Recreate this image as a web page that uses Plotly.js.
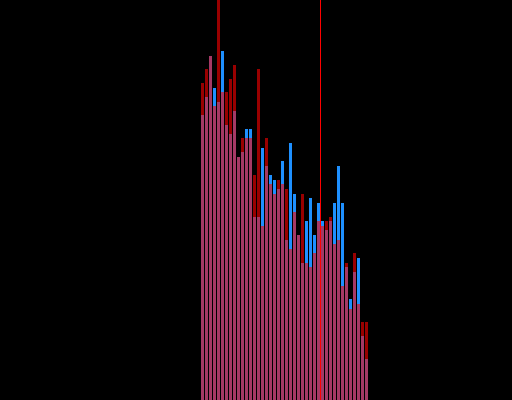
<!DOCTYPE html>
<html>
<head>
<meta charset="utf-8">
<script src="https://cdn.plot.ly/plotly-3.0.1.min.js"></script>
<style>
  html, body { margin: 0; padding: 0; background: #000000; }
  #chart { width: 512px; height: 400px; }
</style>
</head>
<body>
<div id="chart"></div>
<script>
// Category positions (bar index)
const categories = [0,1,2,3,4,5,6,7,8,9,10,11,12,13,14,15,16,17,18,19,20,
                    21,22,23,24,25,26,27,28,29,30,31,32,33,34,35,36,37,38,39,40,41];

// Series values (0-100 scale)
const blueValues = [71.25, 75.75, 86, 78, 74.5, 87.25, 68.75, 66.5, 72.25, 60.75, 62,
                    67.75, 67.75, 45.75, 45.75, 63, 58.5, 56.25, 55, 52.75, 59.75,
                    40, 64.25, 51.5, 41.25, 34.25, 44.75, 50.5, 41.25, 49.25, 44.75,
                    42.5, 44.75, 49.25, 58.5, 49.25, 33.25, 25.25, 32, 35.5, 16, 10.25];

const redValues  = [79.25, 82.75, 86, 73.5, 110, 77, 77, 80.25, 83.75, 60.75, 65.5,
                    65.5, 65.5, 56.25, 82.75, 43.5, 65.5, 54, 51.5, 55, 54,
                    52.75, 37.75, 47, 41.25, 51.5, 34.25, 33.25, 36.75, 44.75, 43.5,
                    44.75, 45.75, 39, 40, 28.5, 34.25, 22.75, 36.75, 24, 19.5, 19.5];

// Marker position for the vertical reference line
const markerX = 29.5;

const traceBlue = {
  type: 'bar', x: categories, y: blueValues, width: 0.75,
  marker: { color: '#1e90ff', line: { width: 0 } },
  hoverinfo: 'none', showlegend: false
};
const traceRed = {
  type: 'bar', x: categories, y: redValues, width: 0.75,
  marker: { color: '#ff0000', line: { width: 0 } },
  opacity: 0.6,
  hoverinfo: 'none', showlegend: false
};

const layout = {
  width: 512, height: 400,
  margin: { l: 0, r: 0, t: 0, b: 0, pad: 0 },
  paper_bgcolor: '#000000', plot_bgcolor: '#000000',
  barmode: 'overlay',
  showlegend: false,
  xaxis: { range: [-50.625, 77.375], visible: false, showgrid: false, zeroline: false, fixedrange: true },
  yaxis: { range: [0, 100], visible: false, showgrid: false, zeroline: false, fixedrange: true },
  shapes: [{
    type: 'line', xref: 'x', yref: 'paper', x0: markerX, x1: markerX, y0: 0, y1: 1,
    line: { color: '#ff0000', width: 1 }, layer: 'above'
  }]
};

Plotly.newPlot('chart', [traceBlue, traceRed], layout, { staticPlot: true, displayModeBar: false });
</script>
</body>
</html>
